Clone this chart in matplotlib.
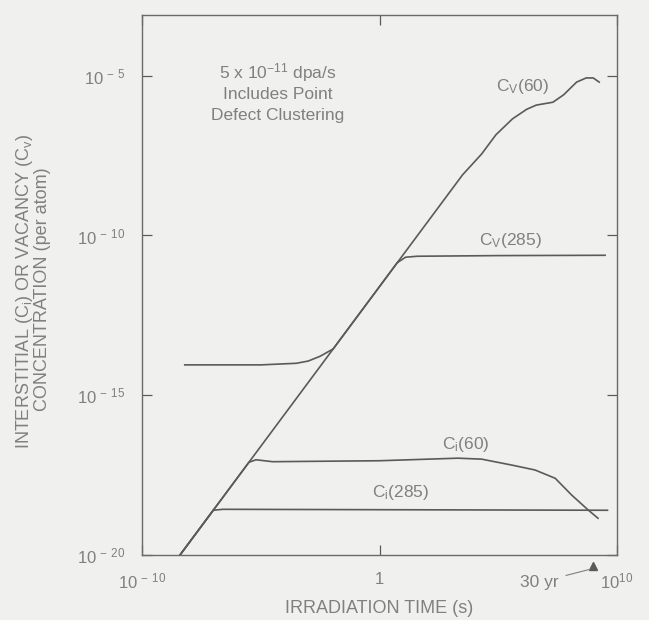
import matplotlib.pyplot as plt
import numpy as np

plt.rcParams['font.family'] = ['Liberation Sans', 'DejaVu Sans']
plt.rcParams['mathtext.default'] = 'regular'

# curves, log10(time s) vs log10(concentration per atom)
cv60_logt = [-8.4, -7.0, -5.5, -1.95, 0.75, 3.5, 4.3, 4.9, 5.6, 6.2, 6.6, 7.3, 7.75, 8.3, 8.7, 9.0, 9.25]
cv60_logc = [-20.0, -18.6, -17.1, -13.55, -10.85, -8.1, -7.45, -6.85, -6.35, -6.05, -5.92, -5.83, -5.6, -5.2, -5.07, -5.07, -5.2]

cv285_logt = [-8.2, -5.0, -3.5, -3.0, -2.5, -1.95, 0.75, 1.1, 1.6, 5.0, 9.5]
cv285_logc = [-14.05, -14.05, -14.0, -13.93, -13.78, -13.55, -10.85, -10.68, -10.65, -10.63, -10.62]

ci60_logt = [-8.4, -7.0, -5.5, -5.2, -4.5, 0.0, 3.3, 4.3, 5.6, 6.55, 7.4, 8.1, 8.8, 9.2]
ci60_logc = [-20.0, -18.6, -17.1, -17.02, -17.08, -17.05, -16.97, -17.0, -17.19, -17.34, -17.6, -18.13, -18.6, -18.85]

ci285_logt = [-8.4, -7.0, -6.6, 9.6]
ci285_logc = [-20.0, -18.6, -18.57, -18.6]

thirty_years = 30 * 3.156e7  # s

ytick_vals = [1e-20, 1e-15, 1e-10, 1e-5]
ytick_labels = [r'$10^{\,-\,20}$', r'$10^{\,-\,15}$', r'$10^{\,-\,10}$', r'$10^{\,-\,5}$']
xtick_vals = [1e-10, 1, 1e10]
xtick_labels = [r'$10^{\,-\,10}$', '1', r'$10^{10}$']

bg = '#f0f0ee'
ink = '#5a5a5a'
txt = '#808080'
fs = 12.5

fig = plt.figure(figsize=(6.49, 6.2), dpi=100, facecolor=bg)
ax = fig.add_axes([142 / 649, 1 - 555 / 620, 475 / 649, 540 / 620], facecolor=bg)

for lt, lc in [(cv60_logt, cv60_logc), (cv285_logt, cv285_logc),
               (ci60_logt, ci60_logc), (ci285_logt, ci285_logc)]:
    ax.plot(10 ** np.array(lt), 10 ** np.array(lc), color=ink, lw=1.2)

ax.set_xscale('log')
ax.set_yscale('log')
ax.set_xlim(1e-10, 1e10)
ax.set_ylim(1e-20, 10 ** -3.1)

ax.set_yticks(ytick_vals)
ax.set_yticklabels(ytick_labels)
ax.set_xticks(xtick_vals)
ax.set_xticklabels(xtick_labels)
ax.minorticks_off()
ax.tick_params(axis='both', direction='in', length=7, width=0.9, color=ink,
               labelcolor=txt, labelsize=12, top=True, right=True)
ax.tick_params(axis='y', pad=12)
ax.tick_params(axis='x', pad=12)
for s in ax.spines.values():
    s.set_color('#6a6a6a')
    s.set_linewidth(1.0)

ax.set_xlabel('IRRADIATION TIME (s)', color=txt, fontsize=13, labelpad=6)
fig.text(25 / 649, 1 - 291 / 620, r'INTERSTITIAL (C$_i$) OR VACANCY (C$_v$)',
         rotation=90, ha='center', va='center', color=txt, fontsize=13)
fig.text(43 / 649, 1 - 289 / 620, 'CONCENTRATION (per atom)',
         rotation=90, ha='center', va='center', color=txt, fontsize=13)

ax.text(0.286, 0.894, r'5 x 10$^{-11}$ dpa/s', transform=ax.transAxes,
        ha='center', va='center', color=txt, fontsize=fs)
ax.text(0.286, 0.852, 'Includes Point', transform=ax.transAxes,
        ha='center', va='center', color=txt, fontsize=fs)
ax.text(0.286, 0.814, 'Defect Clustering', transform=ax.transAxes,
        ha='center', va='center', color=txt, fontsize=fs)

ax.text(0.802, 0.867, r'C$_V$(60)', transform=ax.transAxes, ha='center', va='center', color=txt, fontsize=fs)
ax.text(0.775, 0.583, r'C$_V$(285)', transform=ax.transAxes, ha='center', va='center', color=txt, fontsize=fs)
ax.text(0.682, 0.204, r'C$_i$(60)', transform=ax.transAxes, ha='center', va='center', color=txt, fontsize=fs)
ax.text(0.545, 0.115, r'C$_i$(285)', transform=ax.transAxes, ha='center', va='center', color=txt, fontsize=fs)

ax.plot([thirty_years], [10 ** -20.35], marker='^', color=ink, ms=6, clip_on=False)
ax.annotate('30 yr', xy=(10 ** 8.85, 10 ** -20.45), xytext=(10 ** 6.75, 10 ** -20.85),
            ha='center', va='center', color=txt, fontsize=fs, annotation_clip=False,
            arrowprops=dict(arrowstyle='-', color=txt, lw=0.8, shrinkA=3, shrinkB=0))

fig.savefig('out.png', dpi=100, facecolor=bg)
